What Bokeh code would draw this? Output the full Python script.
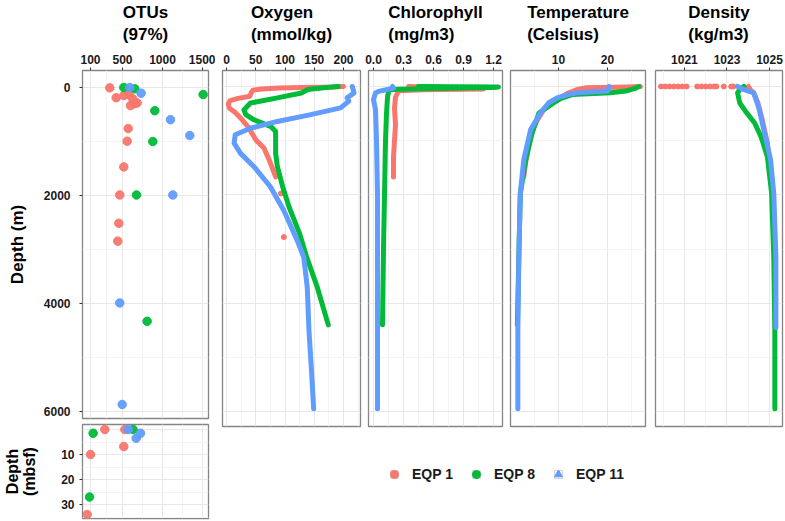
from bokeh.plotting import figure
from bokeh.models import Range1d, FixedTicker, Title, Legend, LegendItem
from bokeh.layouts import row, column
from bokeh.embed import file_html
from bokeh.resources import INLINE

RED = "#F8766D"
GREEN = "#00BA38"
BLUE = "#619CFF"
FONT = "Liberation Sans"

# ---------------- data ----------------
# OTUs (97%) vs water depth (m)
otu_red_val = [341, 421, 516, 579, 629, 600, 683, 650, 571, 558, 516, 466, 454, 441]
otu_red_dep = [6, 190, 150, 135, 210, 335, 285, 300, 760, 995, 1470, 1990, 2515, 2845]
otu_green_val = [516, 654, 1508, 904, 879, 675, 808]
otu_green_dep = [0, 25, 130, 430, 1000, 1990, 4330]
otu_blue_val = [591, 733, 1100, 1341, 1129, 466, 496]
otu_blue_dep = [0, 105, 595, 890, 1990, 3990, 5870]

# OTUs vs sediment depth (mbsf)
sed_red_val = [279, 529, 516, 100, 58]
sed_red_dep = [0, 0, 6.8, 10, 34]
sed_green_val = [133, 633, 88]
sed_green_dep = [1.5, 0, 27]
sed_blue_val = [571, 725, 671]
sed_blue_dep = [0, 1.5, 3.5]

# Oxygen (mmol/kg)
oxy_red_dep = [0, 10, 20, 30, 45, 70, 120, 180, 220, 260, 320, 400, 480, 580, 760, 985, 1135, 1355, 1670]
oxy_red_val = [200, 180, 130, 90, 60, 45, 42, 40, 20, 6, 3, 5, 15, 24, 38, 50, 64, 73, 84]
oxy_red_pts_dep = [1975, 2780]
oxy_red_pts_val = [93, 98]
oxy_green_dep = [0, 20, 55, 120, 210, 305, 430, 520, 615, 740, 830, 1235, 1480, 1850, 2225, 2470, 2720, 3150, 3700, 4400]
oxy_green_val = [191, 170, 139, 128, 87, 41, 30, 33, 47, 76, 84, 84, 87, 96, 107, 116, 125, 137, 155, 174]
oxy_blue_dep = [0, 120, 210, 270, 395, 520, 645, 770, 890, 1045, 1235, 1480, 1850, 2290, 2845, 3150, 3700, 4515, 5200, 5950]
oxy_blue_val = [215, 218, 206, 209, 195, 144, 87, 41, 15, 13, 24, 47, 75, 98, 121, 132, 138, 141, 145, 149]

# Chlorophyll (mg/m3)
chl_red_dep = [0, 15, 30, 45, 60, 80, 120, 200, 400, 700, 1000, 1300, 1670]
chl_red_val = [0.35, 0.6, 0.95, 1.1, 0.5, 0.25, 0.24, 0.22, 0.21, 0.22, 0.21, 0.2, 0.2]
chl_green_dep = [0, 5, 10, 20, 30, 40, 50, 60, 100, 200, 500, 1000, 2000, 3000, 4400]
chl_green_val = [0.45, 0.8, 1.25, 1.2, 0.9, 0.5, 0.25, 0.16, 0.15, 0.14, 0.13, 0.12, 0.11, 0.10, 0.09]
chl_blue_dep = [0, 30, 55, 90, 120, 240, 430, 1000, 2000, 3150, 4500, 5950]
chl_blue_val = [0.19, 0.2, 0.14, 0.05, 0.02, 0.0, 0.02, 0.03, 0.04, 0.04, 0.04, 0.04]

# Temperature (Celsius)
tmp_red_dep = [0, 10, 25, 55, 120, 210, 300, 430, 600, 740, 900, 1110, 1400, 1670]
tmp_red_val = [26.7, 24.0, 15.5, 13.8, 12.0, 10.4, 8.5, 7.0, 5.8, 5.0, 4.4, 3.9, 3.3, 2.9]
tmp_green_dep = [0, 40, 85, 115, 150, 220, 305, 490, 860, 1355, 1975, 3150, 4400]
tmp_green_val = [26.4, 25.5, 23.7, 20.6, 12.8, 10.5, 9.0, 6.0, 4.6, 3.3, 2.2, 1.9, 1.6]
tmp_blue_dep = [0, 50, 85, 115, 160, 210, 300, 490, 800, 1355, 1975, 3150, 4500, 5950]
tmp_blue_val = [20.3, 20.2, 20.0, 13.8, 11.5, 9.7, 8.0, 6.3, 4.3, 2.9, 2.2, 1.9, 1.7, 1.7]

# Density (kg/m3)
den_red_dep = [0, 60, 120, 300, 600, 1045, 1400, 1670]
den_red_val = [1024.0, 1024.1, 1024.26, 1024.45, 1024.65, 1024.9, 1025.0, 1025.05]
den_red_surf_val = [1019.9, 1020.1, 1020.3, 1020.5, 1020.7, 1020.9, 1021.1, 1021.6, 1021.8,
                    1022.0, 1022.2, 1022.4, 1022.5, 1022.85, 1023.2, 1023.3]
den_red_surf_dep = [0] * len(den_red_surf_val)
den_green_dep = [0, 50, 120, 305, 500, 675, 925, 1295, 1975, 3150, 4500, 5950]
den_green_val = [1023.8, 1023.6, 1023.5, 1023.6, 1023.95, 1024.3, 1024.6, 1024.9, 1025.1, 1025.2, 1025.25, 1025.25]
den_blue_dep = [0, 60, 120, 400, 740, 1355, 1975, 3150, 4450]
den_blue_val = [1023.5, 1023.8, 1024.26, 1024.5, 1024.7, 1025.05, 1025.2, 1025.3, 1025.3]

titles = ["OTUs\n(97%)", "Oxygen\n(mmol/kg)", "Chlorophyll\n(mg/m3)",
          "Temperature\n(Celsius)", "Density\n(kg/m3)"]
legend_labels = ["EQP 1", "EQP 8", "EQP 11"]

depth_ticks = [0, 2000, 4000, 6000]
depth_minor = [1000, 3000, 5000]

TOP = 74  # space above each upper panel frame (layout is shifted up by 4px)

# ---------------- helpers ----------------
def base_style(p):
    p.outline_line_color = "#858585"
    p.outline_line_width = 1.3
    p.background_fill_color = "white"
    p.border_fill_color = "white"
    for g in p.grid:
        g.grid_line_color = "#e8e8e8"
        g.grid_line_width = 1
        g.minor_grid_line_color = "#f3f3f3"
        g.minor_grid_line_width = 1


def style_axis(ax, ticks, minor, standoff=3):
    ax.ticker = FixedTicker(ticks=ticks, minor_ticks=minor)
    ax.axis_line_color = None
    ax.major_tick_line_color = "#333333"
    ax.major_tick_out = 3
    ax.major_tick_in = 0
    ax.minor_tick_line_color = None
    ax.major_label_text_font = FONT
    ax.major_label_text_font_size = "12px"
    ax.major_label_text_font_style = "bold"
    ax.major_label_text_color = "#1a1a1a"
    ax.major_label_standoff = standoff


def add_title(p, text):
    p.add_layout(Title(text=text, align="center", vertical_align="top", text_font=FONT,
                       text_font_size="17px", text_font_style="bold", text_color="black",
                       text_line_height=1.18, standoff=11), "above")


def profile_fig(xr, xticks, xminor, fw, bl, br, t):
    p = figure(output_backend="svg", toolbar_location=None, x_axis_location="above",
               y_axis_location=None, x_range=Range1d(*xr), y_range=Range1d(6276, -295),
               frame_width=fw, frame_height=356, min_border_left=bl, min_border_right=br,
               min_border_top=TOP, min_border_bottom=2, title=None)
    base_style(p)
    style_axis(p.xaxis[0], xticks, xminor)
    p.xgrid[0].ticker = FixedTicker(ticks=xticks, minor_ticks=xminor)
    p.ygrid[0].ticker = FixedTicker(ticks=depth_ticks, minor_ticks=depth_minor)
    add_title(p, t)
    return p


def prof_line(p, vals, deps, color):
    p.line(vals, deps, line_width=5, line_color=color, line_cap="round", line_join="round")


# ---------------- OTU water column ----------------
otu_x = (0, 1575)
otu_ticks = [100, 500, 1000, 1500]
otu_minor = [300, 750, 1250]

pA = figure(output_backend="svg", toolbar_location=None, x_axis_location="above",
            x_range=Range1d(*otu_x), y_range=Range1d(6130, -315),
            frame_width=126, frame_height=348, min_border_left=82, min_border_right=7,
            min_border_top=TOP, min_border_bottom=3, title=None)
base_style(pA)
style_axis(pA.xaxis[0], otu_ticks, otu_minor)
style_axis(pA.yaxis[0], depth_ticks, depth_minor, standoff=8)
pA.yaxis[0].axis_label = "Depth (m)"
pA.yaxis[0].axis_label_text_font = FONT
pA.yaxis[0].axis_label_text_font_size = "17px"
pA.yaxis[0].axis_label_text_font_style = "bold"
pA.yaxis[0].axis_label_text_color = "black"
pA.yaxis[0].axis_label_standoff = 14
pA.xgrid[0].ticker = FixedTicker(ticks=otu_ticks, minor_ticks=otu_minor)
pA.ygrid[0].ticker = FixedTicker(ticks=depth_ticks, minor_ticks=depth_minor)
add_title(pA, titles[0])
pA.scatter(otu_red_val, otu_red_dep, size=8.5, color=RED, alpha=0.95)
pA.scatter(otu_green_val, otu_green_dep, size=8.5, color=GREEN, alpha=0.95)
pA.scatter(otu_blue_val, otu_blue_dep, size=8.5, color=BLUE, alpha=0.95)

# ---------------- OTU sediment ----------------
pB = figure(output_backend="svg", toolbar_location=None, x_axis_location=None,
            x_range=Range1d(*otu_x), y_range=Range1d(35.6, -2),
            frame_width=126, frame_height=94, min_border_left=82, min_border_right=7,
            min_border_top=3, min_border_bottom=2, title=None)
base_style(pB)
style_axis(pB.yaxis[0], [10, 20, 30], [0, 5, 15, 25, 35], standoff=4)
pB.yaxis[0].axis_label = "Depth\n(mbsf)"
pB.yaxis[0].axis_label_text_font = FONT
pB.yaxis[0].axis_label_text_font_size = "16px"
pB.yaxis[0].axis_label_text_font_style = "bold"
pB.yaxis[0].axis_label_text_color = "black"
pB.yaxis[0].axis_label_text_line_height = 1.0
pB.yaxis[0].axis_label_standoff = 20
pB.xgrid[0].ticker = FixedTicker(ticks=otu_ticks, minor_ticks=otu_minor)
pB.ygrid[0].ticker = FixedTicker(ticks=[0, 10, 20, 30], minor_ticks=[5, 15, 25, 35])
pB.scatter(sed_red_val, sed_red_dep, size=8.5, color=RED, alpha=0.95)
pB.scatter(sed_green_val, sed_green_dep, size=8.5, color=GREEN, alpha=0.95)
pB.scatter(sed_blue_val, sed_blue_dep, size=8.5, color=BLUE, alpha=0.95)

# ---------------- profiles ----------------
pO = profile_fig((-6.8, 229), [0, 50, 100, 150, 200], [25, 75, 125, 175, 225], 138, 7, 4, titles[1])
prof_line(pO, oxy_red_val, oxy_red_dep, RED)
pO.scatter(oxy_red_pts_val, oxy_red_pts_dep, size=5, color=RED)
prof_line(pO, oxy_green_val, oxy_green_dep, GREEN)
prof_line(pO, oxy_blue_val, oxy_blue_dep, BLUE)

pC = profile_fig((-0.05, 1.29), [0.0, 0.3, 0.6, 0.9, 1.2], [0.15, 0.45, 0.75, 1.05], 134, 4, 4, titles[2])
pC.xaxis[0].major_label_overrides = {0.0: "0.0", 0.3: "0.3", 0.6: "0.6", 0.9: "0.9", 1.2: "1.2"}
prof_line(pC, chl_red_val, chl_red_dep, RED)
prof_line(pC, chl_green_val, chl_green_dep, GREEN)
prof_line(pC, chl_blue_val, chl_blue_dep, BLUE)

pT = profile_fig((0.2, 27.76), [10, 20], [5, 15, 25], 135, 4, 5, titles[3])
prof_line(pT, tmp_red_val, tmp_red_dep, RED)
prof_line(pT, tmp_green_val, tmp_green_dep, GREEN)
prof_line(pT, tmp_blue_val, tmp_blue_dep, BLUE)

pD = profile_fig((1019.64, 1025.61), [1021, 1023, 1025], [1020, 1022, 1024], 127, 5, 2, titles[4])
pD.scatter(den_red_surf_val, den_red_surf_dep, size=5, color=RED)
prof_line(pD, den_red_val, den_red_dep, RED)
prof_line(pD, den_green_val, den_green_dep, GREEN)
prof_line(pD, den_blue_val, den_blue_dep, BLUE)

# ---------------- legend ----------------
pL = figure(output_backend="svg", toolbar_location=None, x_axis_location=None,
            y_axis_location=None, x_range=Range1d(0, 1), y_range=Range1d(0, 1),
            frame_width=569, frame_height=90, min_border=0, title=None)
pL.outline_line_color = None
pL.grid.visible = False
items = []
for lab, col, mk, sz in zip(legend_labels, [RED, GREEN, BLUE], ["circle", "circle", "triangle"], [6, 6, 7]):
    # off-range placeholder so the legend key has a glyph to draw
    box = pL.scatter(x=[-9], y=[-9], marker="square", size=19, fill_color="white",
                     line_color="#d6d6d6", line_width=1)
    dot = pL.scatter(x=[-9], y=[-9], marker=mk, size=sz, color=col)
    items.append(LegendItem(label=lab, renderers=[box, dot]))
leg = Legend(items=items, orientation="horizontal", location=(169, 34),
             glyph_width=20, glyph_height=20, label_standoff=8, spacing=13,
             padding=0, margin=0, border_line_color=None, background_fill_alpha=0,
             label_text_font=FONT, label_text_font_size="14px", label_text_font_style="bold",
             label_text_color="#1a1a1a")
pL.add_layout(leg, "center")

layout = row(column(pA, pB, spacing=0),
             column(row(pO, pC, pT, pD, spacing=0), pL, spacing=0),
             spacing=0, margin=(-4, 0, 0, 0))

open("out.html", "w").write(file_html(layout, INLINE))
